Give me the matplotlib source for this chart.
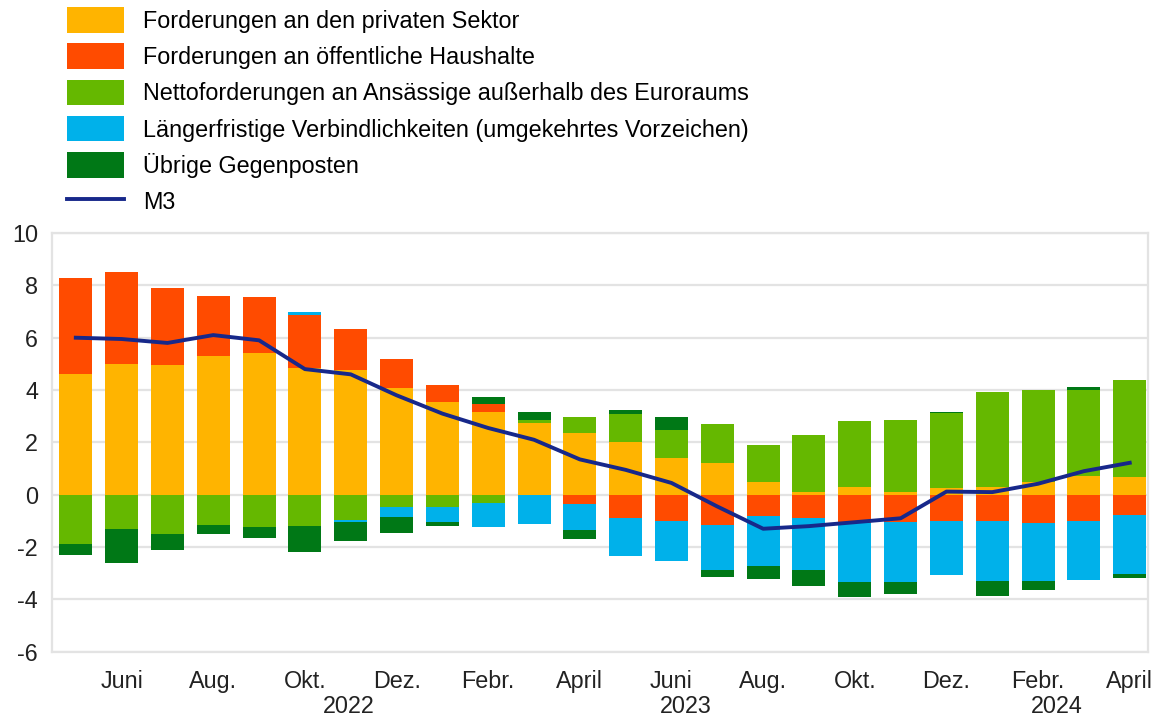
import matplotlib

matplotlib.use("Agg")
import matplotlib.pyplot as plt
import numpy as np
from matplotlib.lines import Line2D
from matplotlib.patches import Patch

plt.rcParams["font.family"] = ["Liberation Sans", "DejaVu Sans"]
plt.rcParams["axes.unicode_minus"] = False

# monthly contributions, May 2022 - April 2024 (percentage points)
private_sector = [4.6, 5.0, 4.95, 5.3, 5.4, 4.85, 4.75, 4.07, 3.55, 3.17, 2.75, 2.35,
                  2.03, 1.4, 1.22, 0.5, 0.12, 0.3, 0.1, 0.27, 0.3, 0.5, 0.7, 0.66]
government = [3.7, 3.5, 2.95, 2.3, 2.15, 2.0, 1.6, 1.13, 0.65, 0.28, 0.0, -0.36,
              -0.9, -1.0, -1.14, -0.83, -0.89, -1.07, -1.05, -1.0, -1.02, -1.07, -1.02, -0.76]
external = [-1.9, -1.3, -1.5, -1.15, -1.25, -1.2, -0.95, -0.45, -0.45, -0.3, 0.1, 0.63,
            1.05, 1.08, 1.48, 1.4, 2.16, 2.52, 2.76, 2.85, 3.62, 3.5, 3.3, 3.74]
longer_term = [0.0, 0.0, 0.0, 0.0, 0.0, 0.15, -0.08, -0.4, -0.6, -0.95, -1.12, -1.0,
               -1.45, -1.55, -1.72, -1.9, -1.97, -2.25, -2.3, -2.08, -2.26, -2.23, -2.24, -2.26]
other = [-0.4, -1.3, -0.6, -0.35, -0.4, -1.0, -0.72, -0.6, -0.15, 0.3, 0.3, -0.33,
         0.16, 0.5, -0.29, -0.5, -0.64, -0.58, -0.45, 0.06, -0.6, -0.35, 0.1, -0.18]
m3 = [6.0, 5.95, 5.8, 6.1, 5.9, 4.8, 4.6, 3.8, 3.1, 2.55, 2.1, 1.35,
      0.95, 0.45, -0.45, -1.3, -1.2, -1.05, -0.9, 0.12, 0.1, 0.42, 0.9, 1.22]

month_labels = ["Juni", "Aug.", "Okt.", "Dez.", "Febr.", "April",
                "Juni", "Aug.", "Okt.", "Dez.", "Febr.", "April"]
years = ["2022", "2023", "2024"]

series = [
    ("Forderungen an den privaten Sektor", private_sector, "#FFB400"),
    ("Forderungen an öffentliche Haushalte", government, "#FF4B00"),
    ("Nettoforderungen an Ansässige außerhalb des Euroraums", external, "#65B800"),
    ("Längerfristige Verbindlichkeiten (umgekehrtes Vorzeichen)", longer_term, "#00B1EA"),
    ("Übrige Gegenposten", other, "#007816"),
]
m3_color = "#17288a"
fs = 16.8

fig = plt.figure(figsize=(11.55, 7.17), dpi=100)
ax = fig.add_axes([0.045, 0.091, 0.949, 0.584])

x = np.arange(len(m3))
pos_base = np.zeros(len(x))
neg_base = np.zeros(len(x))
handles = []
for label, values, color in series:
    v = np.array(values)
    bottom = np.where(v >= 0, pos_base, neg_base)
    ax.bar(x, v, 0.72, bottom=bottom, color=color, linewidth=0, zorder=2)
    pos_base += np.clip(v, 0, None)
    neg_base += np.clip(v, None, 0)
    handles.append(Patch(facecolor=color, label=label))

ax.plot(x, m3, color=m3_color, linewidth=2.8, zorder=3)
handles.append(Line2D([], [], color=m3_color, linewidth=2.8, label="M3"))

ax.set_xlim(-0.52, 23.4)
ax.set_ylim(-6, 10)
ax.set_yticks(range(-6, 11, 2))
ax.set_xticks(x[1::2], month_labels)
ax.tick_params(axis="both", length=0, labelsize=fs, colors="#222222")
ax.tick_params(axis="y", pad=10)
ax.tick_params(axis="x", pad=13)
ax.grid(axis="y", color="#e3e3e3", linewidth=1.6, zorder=0)
for side in ax.spines.values():
    side.set_color("#e3e3e3")
    side.set_linewidth(1.6)

for label, xpos in zip(years, [5.95, 13.3, 21.4]):
    ax.text(xpos, -0.104, label, transform=ax.get_xaxis_transform(),
            ha="center", va="top", fontsize=fs, color="#222222")

fig.legend(handles=handles, loc="upper left", bbox_to_anchor=(0.058, 0.99),
           frameon=False, fontsize=fs, handlelength=2.45, handleheight=1.3,
           handletextpad=0.8, labelspacing=0.46, borderpad=0, borderaxespad=0)

fig.savefig("out.png", dpi=100)
